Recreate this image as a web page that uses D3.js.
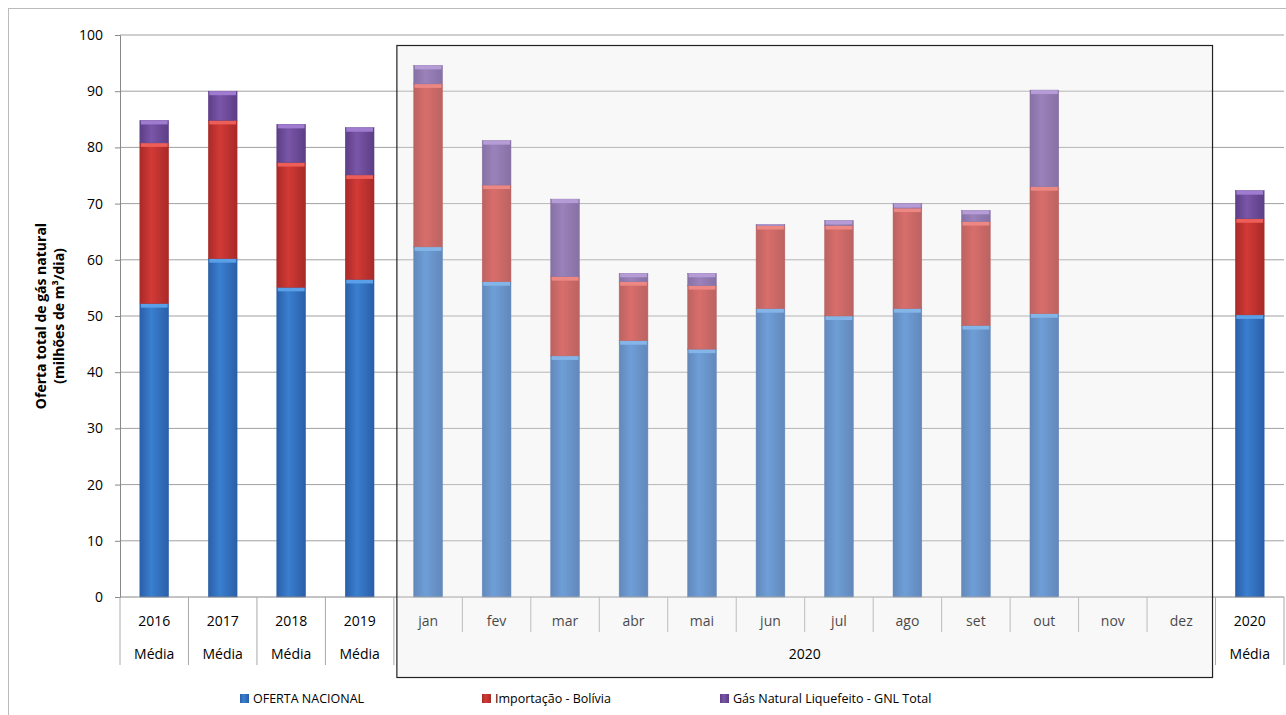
<!DOCTYPE html>
<html lang="pt">
<head>
<meta charset="UTF-8">
<title>Oferta total de gás natural</title>
<script src="https://d3js.org/d3.v7.min.js"></script>
<style>
body{margin:0;background:#fff;font-family:"Liberation Sans",Arial,sans-serif;}
text{font-family:"Open Sans","DejaVu Sans",sans-serif;}
</style>
</head>
<body>
<svg id="chart" width="1286" height="715"></svg>
<script>
// categorias e séries (milhões de m³/dia)
const categorias = ["2016","2017","2018","2019","jan","fev","mar","abr","mai","jun","jul","ago","set","out","nov","dez","2020"];
const grupos     = ["Média","Média","Média","Média","","","","","","","","","","","","","Média"];
const nacional   = [52.2,60.2,55.1,56.5,62.3,56.1,42.9,45.6,44.1,51.3,50.0,51.3,48.3,50.4,null,null,50.2];
const bolivia    = [28.6,24.6,22.2,18.6,29.0,17.2,14.1,10.5,11.3,14.8,16.1,17.9,18.5,22.6,null,null,17.1];
const gnl        = [4.0,5.2,6.8,8.4,3.3,7.9,13.8,1.5,2.2,0.2,0.9,0.8,2.0,17.2,null,null,5.0];
const series = [
  {nome:"OFERTA NACIONAL", vals:nacional, cor:"#3a7fd0", dark:"#2a5fa8", light:"#5aa0e8"},
  {nome:"Importação - Bolívia", vals:bolivia, cor:"#d23a36", dark:"#a82a28", light:"#ee5e58"},
  {nome:"Gás Natural Liquefeito - GNL Total", vals:gnl, cor:"#7a56a8", dark:"#5c3e86", light:"#a07cd0"}
];
const yTicks = d3.range(0,101,10);

const svg = d3.select("#chart");
const pLeft=120, pRight=1284, pTop=35, pBottom=597;
const x = d3.scaleBand().domain(categorias).range([pLeft,pRight]).paddingInner(0.58).paddingOuter(0.29);
const step = (pRight-pLeft)/categorias.length;
const y = d3.scaleLinear().domain([0,100]).range([pBottom,pTop]);

// moldura
svg.append("rect").attr("x",8.5).attr("y",8.5).attr("width",1290).attr("height",720)
  .attr("fill","none").attr("stroke","#bbb");

const defs = svg.append("defs");
series.forEach((s,i)=>{
  const g = defs.append("linearGradient").attr("id","g"+i).attr("x1","0").attr("x2","1");
  g.append("stop").attr("offset","0%").attr("stop-color",s.dark);
  g.append("stop").attr("offset","40%").attr("stop-color",s.cor);
  g.append("stop").attr("offset","100%").attr("stop-color",s.dark);
});

// grade
svg.append("g").selectAll("line").data(yTicks.slice(1)).enter().append("line")
  .attr("x1",pLeft).attr("x2",pRight).attr("y1",d=>y(d)).attr("y2",d=>y(d))
  .attr("stroke","#a0a0a0");

// eixo y
const yAxis = svg.append("g").attr("transform",`translate(${pLeft},0)`)
  .call(d3.axisLeft(y).tickValues(yTicks).tickSize(5).tickPadding(12));
yAxis.select(".domain").attr("stroke","#888");
yAxis.selectAll(".tick line").attr("stroke","#888");
yAxis.selectAll("text").attr("font-size",14).attr("fill","#000");

// barras empilhadas
categorias.forEach((c,ci)=>{
  let base = 0;
  series.forEach((s,si)=>{
    const v = s.vals[ci];
    if(v==null) return;
    const y0 = y(base), y1 = y(base+v);
    svg.append("rect").attr("x",x(c)).attr("width",x.bandwidth())
      .attr("y",y1).attr("height",y0-y1).attr("fill",`url(#g${si})`)
      .attr("stroke",s.dark).attr("stroke-width",0.5);
    svg.append("rect").attr("x",x(c)+1).attr("width",x.bandwidth()-2)
      .attr("y",y1).attr("height",Math.min(4,y0-y1)).attr("fill",s.light);
    base += v;
  });
});

// eixo x
svg.append("line").attr("x1",pLeft).attr("x2",pRight).attr("y1",pBottom).attr("y2",pBottom).attr("stroke","#888");
const xa = svg.append("g");
categorias.forEach((c,i)=>{
  const cx = pLeft + step*i;
  const full = grupos[i]!=="" || (i>0 && grupos[i-1]!=="");
  xa.append("line").attr("x1",cx).attr("x2",cx).attr("y1",pBottom).attr("y2",full?665:632).attr("stroke","#aaa");
  xa.append("text").attr("x",cx+step/2).attr("y",626).attr("text-anchor","middle")
    .attr("font-size",14).text(c);
  if(grupos[i]) xa.append("text").attr("x",cx+step/2).attr("y",659).attr("text-anchor","middle")
    .attr("font-size",14).text(grupos[i]);
});
xa.append("line").attr("x1",pRight).attr("x2",pRight).attr("y1",pBottom).attr("y2",665).attr("stroke","#aaa");

// destaque 2020
const bx0 = pLeft+step*4 + 3, bx1 = pLeft+step*16 - 3;
svg.append("rect").attr("x",bx0).attr("y",45.5).attr("width",bx1-bx0).attr("height",632)
  .attr("fill","#e8e8e8").attr("fill-opacity",0.3).attr("stroke","#222").attr("stroke-width",1.2);
svg.append("text").attr("x",(bx0+bx1)/2).attr("y",659).attr("text-anchor","middle").attr("font-size",14).text("2020");

// título do eixo y
svg.append("text").attr("transform","translate(46,316) rotate(-90)").attr("text-anchor","middle")
  .attr("font-size",14).attr("font-weight","bold").text("Oferta total  de gás natural");
svg.append("text").attr("transform","translate(64,316) rotate(-90)").attr("text-anchor","middle")
  .attr("font-size",14).attr("font-weight","bold").text("(milhões de m³/dia)");

// legenda
const legX = [240,482,720];
series.forEach((s,i)=>{
  svg.append("rect").attr("x",legX[i]).attr("y",694).attr("width",9).attr("height",9).attr("fill",`url(#g${i})`);
  svg.append("text").attr("x",legX[i]+13).attr("y",703).attr("font-size",12.5).text(s.nome);
});
</script>
</body>
</html>
